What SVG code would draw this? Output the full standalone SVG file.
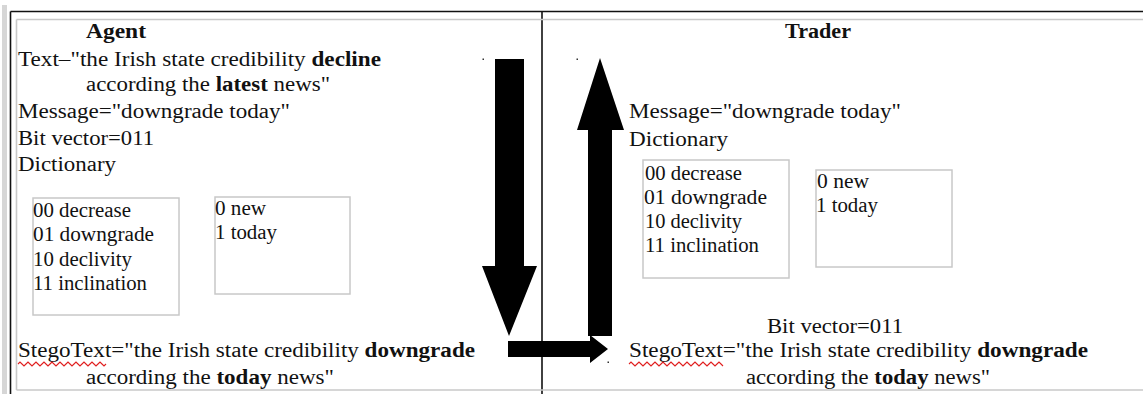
<svg xmlns="http://www.w3.org/2000/svg" width="1143" height="394" viewBox="0 0 1143 394">
  <style>
    text { font-family: "Liberation Serif", "Times New Roman", serif; font-size: 20px; fill: #111; }
    .b { font-weight: bold; }
    .rule { stroke: #111; stroke-width: 1.6; fill: none; }
    .cell { stroke: #c8c8c8; stroke-width: 1.6; fill: none; }
    .dict { stroke: #c8c8c8; stroke-width: 1.5; fill: #fff; }
    .arrow { fill: #000; }
    .squiggle { stroke: #e02020; stroke-width: 1.1; fill: none; }
    .dot { fill: #333; }
  </style>

  <rect width="1143" height="394" fill="#fff"/>

  <!-- table frame -->
  <g id="frame">
    <rect x="2" y="5" width="5" height="389" fill="#d6d6d6"/>
    <line class="rule" x1="10.5" y1="11.5" x2="1143" y2="11.5"/>
    <line class="rule" x1="10.5" y1="11.5" x2="10.5" y2="394"/>
    <line class="rule" x1="542" y1="11.5" x2="542" y2="394"/>
    <line class="cell" x1="16.5" y1="19.5" x2="1143" y2="19.5"/>
    <line class="cell" x1="16.5" y1="19.5" x2="16.5" y2="390"/>
    <line class="cell" x1="16.5" y1="390" x2="1143" y2="390"/>
  </g>

  <!-- left cell: Agent -->
  <g id="agent">
    <text x="86" y="38" class="b" textLength="60" lengthAdjust="spacingAndGlyphs">Agent</text>
    <text x="18" y="66" textLength="363" lengthAdjust="spacingAndGlyphs">Text–"the Irish state credibility <tspan class="b">decline</tspan></text>
    <text x="86" y="91" textLength="244" lengthAdjust="spacingAndGlyphs">according the <tspan class="b">latest</tspan> news"</text>
    <text x="18" y="118" textLength="272" lengthAdjust="spacingAndGlyphs">Message="downgrade today"</text>
    <text x="18" y="145" textLength="136" lengthAdjust="spacingAndGlyphs">Bit vector=011</text>
    <text x="18" y="171" textLength="98" lengthAdjust="spacingAndGlyphs">Dictionary</text>
    <text x="18" y="357" textLength="457" lengthAdjust="spacingAndGlyphs">StegoText="the Irish state credibility <tspan class="b">downgrade</tspan></text>
    <text x="86" y="384" textLength="248" lengthAdjust="spacingAndGlyphs">according the <tspan class="b">today</tspan> news"</text>
    <path class="squiggle" d="M18 364 l2 -2 l2 2 l2 2 l2 -2 l2 -2 l2 2 l2 2 l2 -2 l2 -2 l2 2 l2 2 l2 -2 l2 -2 l2 2 l2 2 l2 -2 l2 -2 l2 2 l2 2 l2 -2 l2 -2 l2 2 l2 2 l2 -2 l2 -2 l2 2 l2 2 l2 -2 l2 -2 l2 2 l2 2 l2 -2 l2 -2 l2 2 l2 2 l2 -2 l2 -2 l2 2 l2 2 l2 -2 l2 -2 l2 2 l2 2 l2 -2"/>
  </g>

  <g id="agent-dict-words">
    <rect class="dict" x="33" y="198" width="146" height="117"/>
    <text x="33" y="217" textLength="98" lengthAdjust="spacingAndGlyphs">00 decrease</text>
    <text x="33" y="241" textLength="121" lengthAdjust="spacingAndGlyphs">01 downgrade</text>
    <text x="33" y="266" textLength="99" lengthAdjust="spacingAndGlyphs">10 declivity</text>
    <text x="33" y="290" textLength="114" lengthAdjust="spacingAndGlyphs">11 inclination</text>
  </g>

  <g id="agent-dict-days">
    <rect class="dict" x="215" y="197" width="135" height="97"/>
    <text x="215" y="215" textLength="51" lengthAdjust="spacingAndGlyphs">0 new</text>
    <text x="215" y="239" textLength="62" lengthAdjust="spacingAndGlyphs">1 today</text>
  </g>

  <!-- right cell: Trader -->
  <g id="trader">
    <text x="785" y="38" class="b" textLength="66" lengthAdjust="spacingAndGlyphs">Trader</text>
    <text x="629" y="118" textLength="272" lengthAdjust="spacingAndGlyphs">Message="downgrade today"</text>
    <text x="629" y="146" textLength="99" lengthAdjust="spacingAndGlyphs">Dictionary</text>
    <text x="767" y="333" textLength="136" lengthAdjust="spacingAndGlyphs">Bit vector=011</text>
    <text x="629" y="357" textLength="459" lengthAdjust="spacingAndGlyphs">StegoText="the Irish state credibility <tspan class="b">downgrade</tspan></text>
    <text x="746" y="384" textLength="244" lengthAdjust="spacingAndGlyphs">according the <tspan class="b">today</tspan> news"</text>
    <path class="squiggle" d="M629 364 l2 -2 l2 2 l2 2 l2 -2 l2 -2 l2 2 l2 2 l2 -2 l2 -2 l2 2 l2 2 l2 -2 l2 -2 l2 2 l2 2 l2 -2 l2 -2 l2 2 l2 2 l2 -2 l2 -2 l2 2 l2 2 l2 -2 l2 -2 l2 2 l2 2 l2 -2 l2 -2 l2 2 l2 2 l2 -2 l2 -2 l2 2 l2 2 l2 -2 l2 -2 l2 2 l2 2 l2 -2 l2 -2 l2 2 l2 2 l2 -2 l2 -2 l2 2 l2 2"/>
  </g>

  <g id="trader-dict-words">
    <rect class="dict" x="643" y="160" width="146" height="118"/>
    <text x="645" y="180" textLength="97" lengthAdjust="spacingAndGlyphs">00 decrease</text>
    <text x="644" y="204" textLength="123" lengthAdjust="spacingAndGlyphs">01 downgrade</text>
    <text x="645" y="228" textLength="97" lengthAdjust="spacingAndGlyphs">10 declivity</text>
    <text x="645" y="252" textLength="114" lengthAdjust="spacingAndGlyphs">11 inclination</text>
  </g>

  <g id="trader-dict-days">
    <rect class="dict" x="816" y="170" width="136" height="97"/>
    <text x="817" y="188" textLength="52" lengthAdjust="spacingAndGlyphs">0 new</text>
    <text x="816" y="212" textLength="62" lengthAdjust="spacingAndGlyphs">1 today</text>
  </g>

  <!-- block arrows between the two cells -->
  <g id="connectors">
    <polygon class="arrow" points="495,59 524,59 524,266 537,266 509,336 482,266 495,266"/>
    <polygon class="arrow" points="508,341 590,341 590,335 608,349 590,363 590,357 508,357"/>
    <polygon class="arrow" points="600,58 624,130 612,130 612,336 588,336 588,130 577,130"/>
    <rect class="dot" x="482.5" y="58.5" width="1.5" height="1.5"/>
    <rect class="dot" x="576.5" y="58.5" width="1.5" height="1.5"/>
    <rect class="dot" x="607.5" y="361.5" width="1.5" height="1.5"/>
  </g>
</svg>
